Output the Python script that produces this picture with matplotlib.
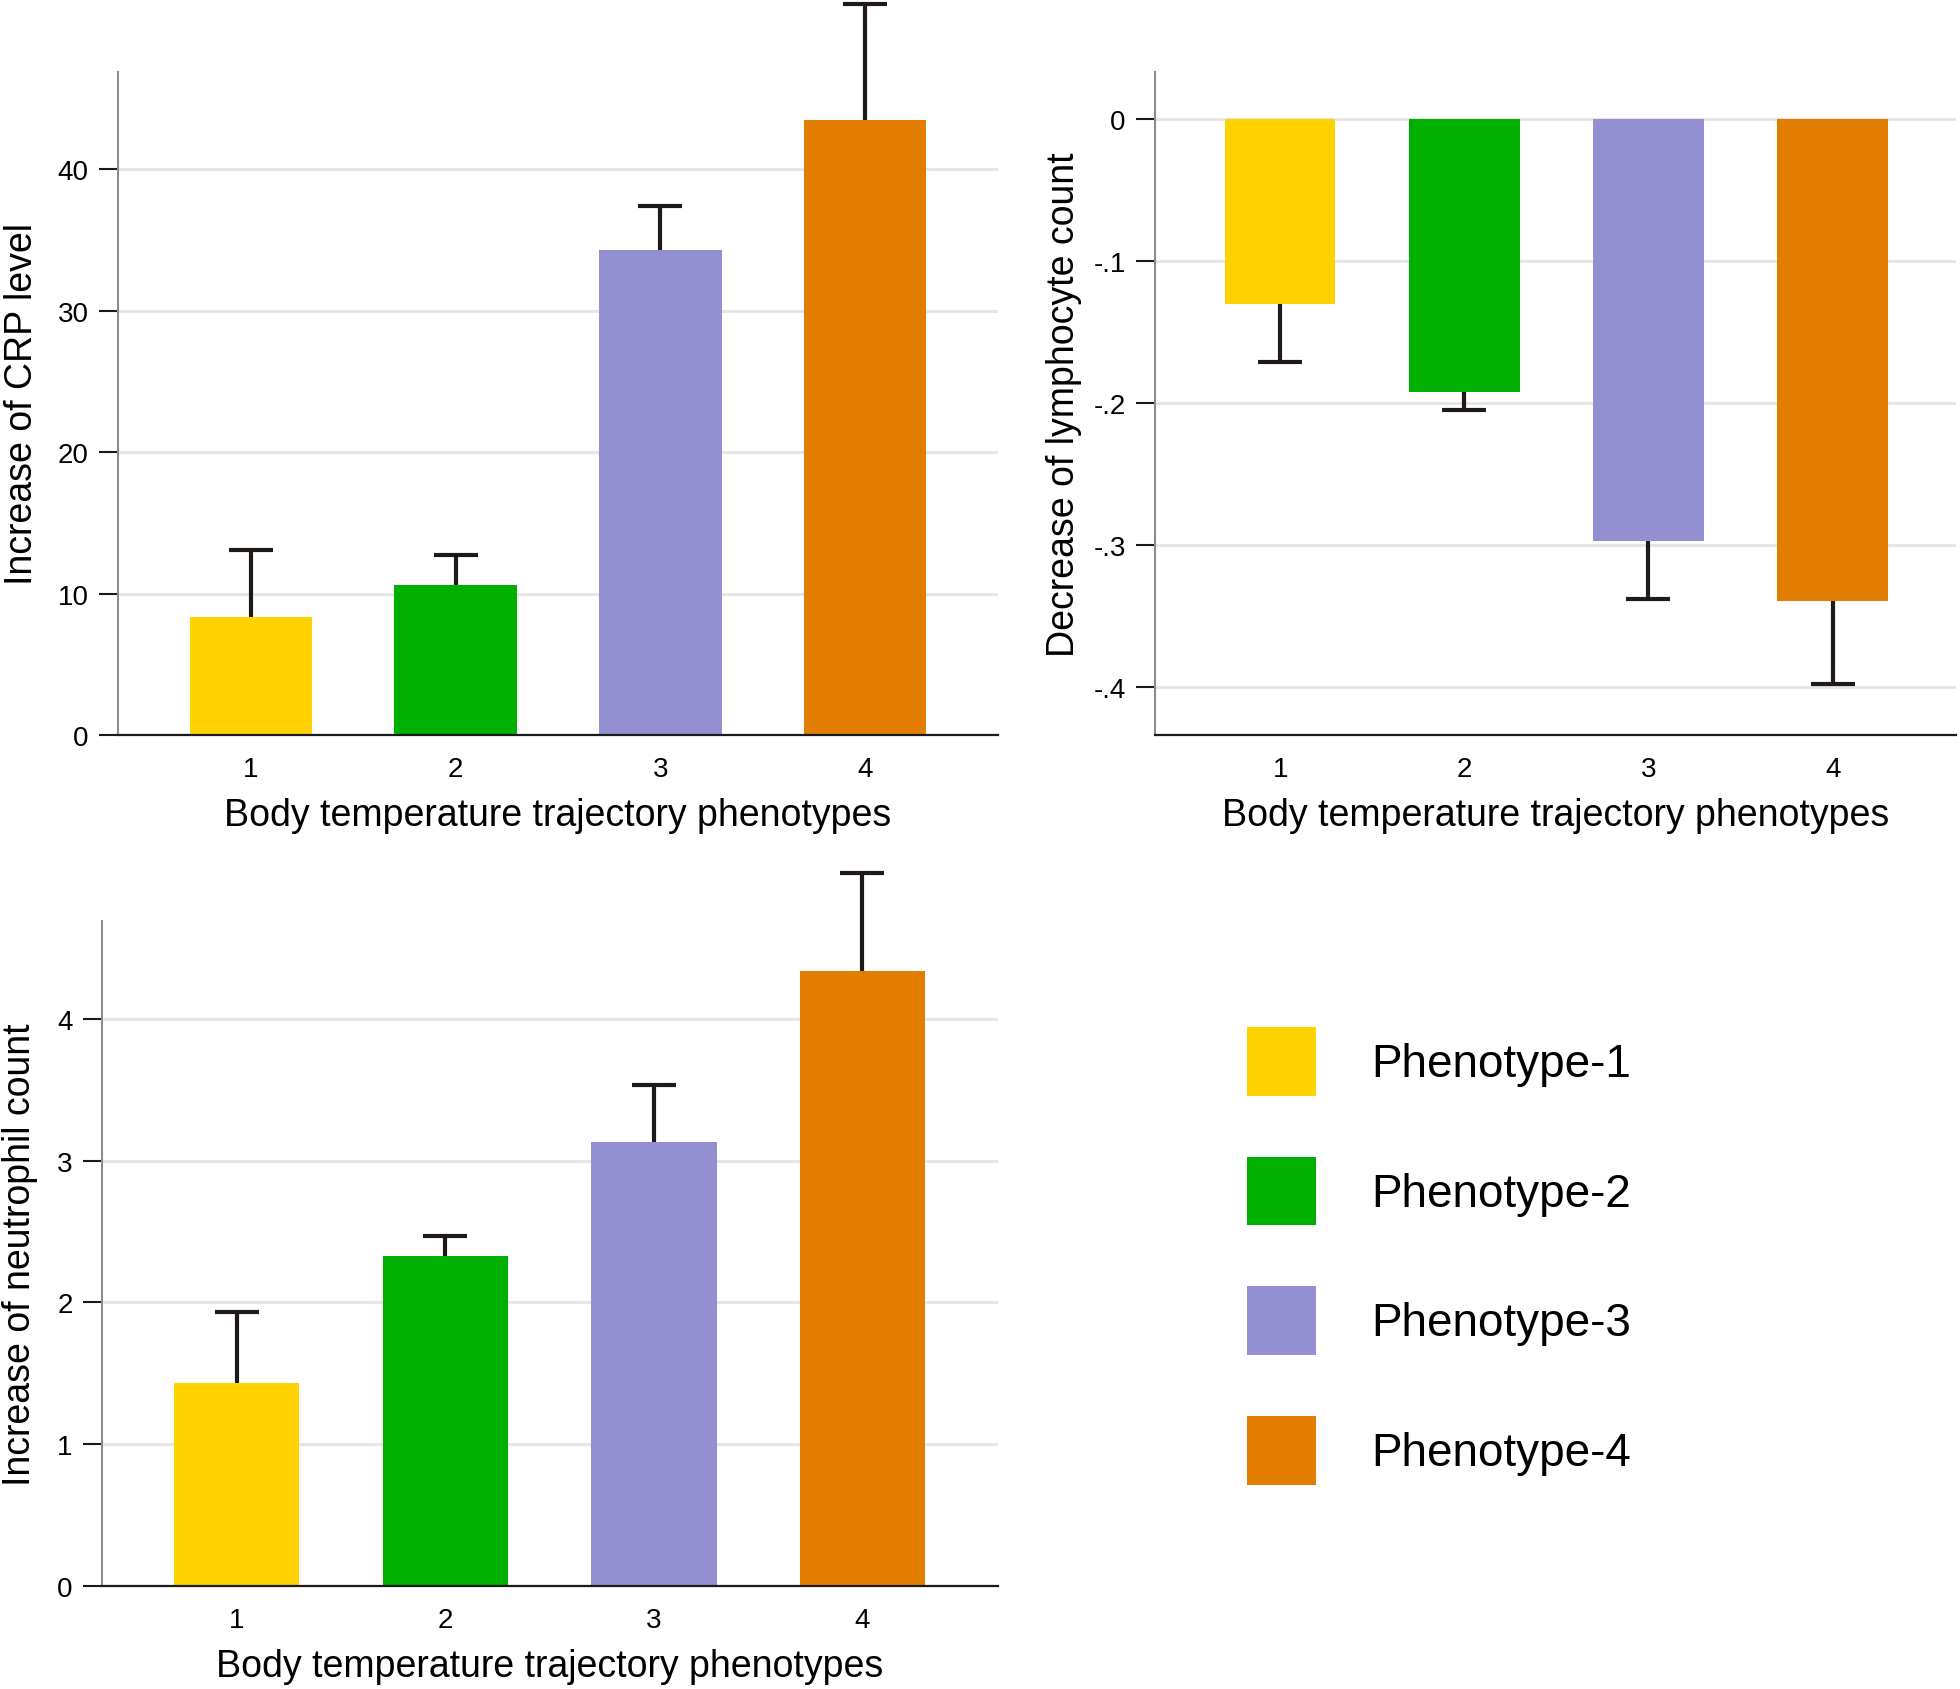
import numpy as np
import matplotlib.pyplot as plt

plt.rcParams['font.family'] = ['Liberation Sans', 'DejaVu Sans']

# data
groups = [1, 2, 3, 4]
crp_mean = [8.35, 10.6, 34.3, 43.5]
crp_err = [4.75, 2.1, 3.1, 8.2]
lym_mean = [-0.130, -0.192, -0.297, -0.339]
lym_err = [0.041, 0.013, 0.041, 0.059]
neu_mean = [1.435, 2.325, 3.13, 4.34]
neu_err = [0.495, 0.14, 0.405, 0.69]

colors = ['#FFD200', '#00AF00', '#938FD1', '#E27D00']
legend_labels = ['Phenotype-1', 'Phenotype-2', 'Phenotype-3', 'Phenotype-4']
xlabel = 'Body temperature trajectory phenotypes'

lym_ticks = [0, -0.1, -0.2, -0.3, -0.4]
lym_ticklabels = ['0', '-.1', '-.2', '-.3', '-.4']

fig = plt.figure(figsize=(19.6, 16.9), dpi=100)
ax1 = fig.add_axes([118/1960, 1-736/1690, 880/1960, 663/1690])
ax2 = fig.add_axes([1155/1960, 1-736/1690, 801/1960, 663/1690])
ax3 = fig.add_axes([102/1960, 1-1587/1690, 896/1960, 665/1690])


def panel(ax, means, errs, ylabel, ylim, xlim, lpad):
    bars = ax.bar(groups, means, width=0.6, color=colors, zorder=2)
    means = np.array(means)
    # one-sided bar: from the end of the bar outwards, cap only at the far end
    ends = means + np.sign(means) * np.array(errs)
    ax.vlines(groups, means, ends, color='#1f1a17', linewidth=3, zorder=3, clip_on=False)
    ax.plot(groups, ends, ls='none', marker='_', markersize=31, markeredgewidth=3,
            color='#1f1a17', zorder=3, clip_on=False)
    ax.set_xlim(*xlim)
    ax.set_ylim(*ylim)
    ax.set_xticks(groups)
    ax.grid(axis='y', color='#e6e6e6', linewidth=2.2, zorder=0)
    ax.set_axisbelow(True)
    for s in ['top', 'right']:
        ax.spines[s].set_visible(False)
    ax.spines['left'].set_color('#8c8c8c')
    ax.spines['left'].set_linewidth(1.5)
    ax.spines['bottom'].set_color('#1a1a1a')
    ax.spines['bottom'].set_linewidth(1.6)
    ax.tick_params(axis='y', length=14, width=1.5, color='#1a1a1a', pad=7, labelsize=20)
    ax.tick_params(axis='x', length=0, pad=15, labelsize=20)
    ax.set_ylabel(ylabel, fontsize=27, labelpad=lpad)
    ax.set_xlabel(xlabel, fontsize=27, labelpad=11)
    return bars


bars = panel(ax1, crp_mean, crp_err, 'Increase of CRP level', (0, 46.87), (0.35, 4.65), 13)
ax1.set_yticks([0, 10, 20, 30, 40])

panel(ax2, lym_mean, lym_err, 'Decrease of lymphocyte count', (-0.4336, 0.0333), (0.32, 4.67), 8)
ax2.set_yticks(lym_ticks)
ax2.set_yticklabels(lym_ticklabels)

panel(ax3, neu_mean, neu_err, 'Increase of neutrophil count', (0, 4.69), (0.353, 4.65), 14)
ax3.set_yticks([0, 1, 2, 3, 4])

fig.legend(list(bars.patches), legend_labels, loc='upper left',
           bbox_to_anchor=(1247/1960, 1-1028/1690), frameon=False,
           fontsize=33, handlelength=1.5, handleheight=1.93, handletextpad=1.2,
           labelspacing=1.33, borderpad=0, borderaxespad=0)

plt.savefig('out.png', dpi=100)
